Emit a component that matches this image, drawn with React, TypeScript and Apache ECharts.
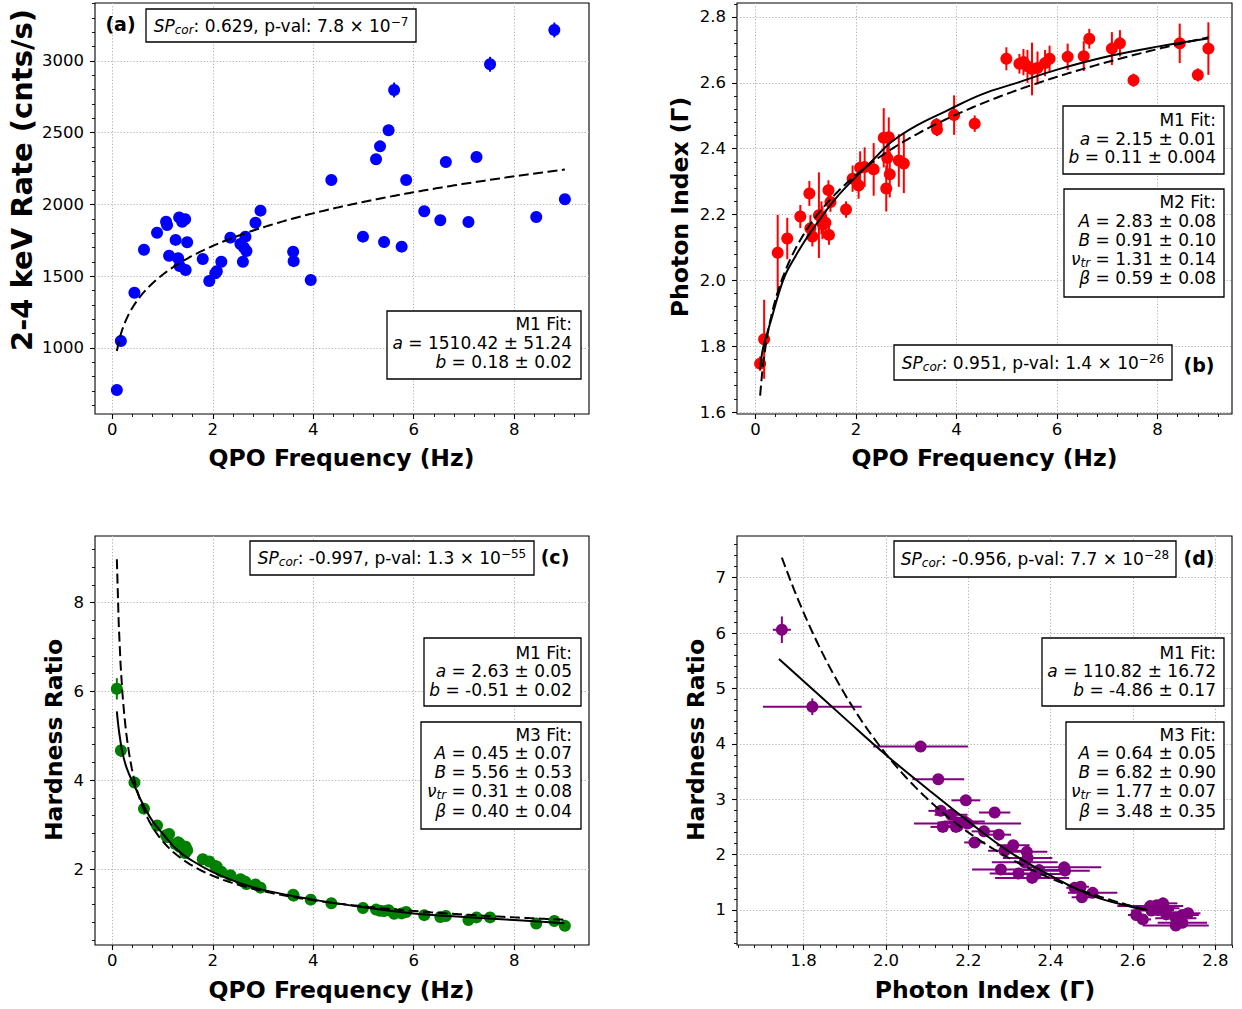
import React, { useEffect, useRef } from 'react';
import * as echarts from 'echarts';

// ---------------- data ----------------
const qpo = [0.09, 0.17, 0.44, 0.63, 0.89, 1.07, 1.09, 1.13, 1.26, 1.31, 1.33, 1.34, 1.39, 1.45, 1.46, 1.49, 1.80, 1.93, 2.05, 2.08, 2.17, 2.35, 2.55, 2.60, 2.62, 2.65, 2.67, 2.85, 2.95, 3.60, 3.61, 3.95, 4.36, 4.99, 5.25, 5.33, 5.41, 5.50, 5.61, 5.76, 5.85, 6.21, 6.53, 6.64, 7.09, 7.25, 7.52, 8.44, 8.80, 9.01];
const rate = [707, 1049, 1385, 1685, 1803, 1880, 1857, 1643, 1753, 1625, 1910, 1571, 1880, 1897, 1543, 1737, 1620, 1467, 1520, 1535, 1601, 1769, 1725, 1601, 1700, 1776, 1676, 1873, 1957, 1671, 1605, 1474, 2171, 1776, 2315, 2405, 1739, 2517, 2798, 1706, 2171, 1953, 1890, 2296, 1878, 2331, 2977, 1913, 3216, 2036];
const rateErr = [12, 14, 16, 18, 18, 20, 20, 18, 19, 18, 21, 17, 20, 21, 17, 19, 18, 17, 17, 17, 18, 20, 19, 18, 19, 20, 19, 21, 22, 19, 18, 17, 30, 19, 30, 34, 19, 38, 52, 19, 30, 21, 21, 34, 21, 36, 52, 22, 52, 23];
const gamma = [1.747, 1.821, 2.084, 2.127, 2.194, 2.264, 2.158, 2.133, 2.198, 2.19, 2.175, 2.17, 2.175, 2.274, 2.138, 2.238, 2.215, 2.309, 2.288, 2.342, 2.344, 2.337, 2.433, 2.279, 2.372, 2.435, 2.322, 2.364, 2.355, 2.473, 2.458, 2.502, 2.476, 2.673, 2.658, 2.663, 2.650, 2.642, 2.645, 2.660, 2.673, 2.679, 2.681, 2.734, 2.704, 2.720, 2.608, 2.720, 2.624, 2.704];
const gammaErr = [0.022, 0.12, 0.115, 0.063, 0.035, 0.038, 0.04, 0.03, 0.13, 0.05, 0.05, 0.04, 0.04, 0.03, 0.03, 0.03, 0.025, 0.04, 0.04, 0.05, 0.06, 0.08, 0.09, 0.07, 0.06, 0.06, 0.07, 0.08, 0.09, 0.02, 0.02, 0.06, 0.025, 0.035, 0.03, 0.04, 0.05, 0.08, 0.05, 0.04, 0.04, 0.04, 0.045, 0.03, 0.05, 0.04, 0.02, 0.06, 0.02, 0.08];
const hardness = [6.06, 4.67, 3.95, 3.36, 2.98, 2.76, 2.72, 2.79, 2.56, 2.60, 2.58, 2.50, 2.52, 2.36, 2.50, 2.42, 2.22, 2.17, 2.07, 2.05, 1.94, 1.86, 1.77, 1.73, 1.72, 1.71, 1.66, 1.65, 1.58, 1.42, 1.40, 1.31, 1.23, 1.12, 1.085, 1.06, 1.05, 1.07, 0.99, 1.00, 1.03, 0.96, 0.92, 0.94, 0.85, 0.91, 0.91, 0.77, 0.83, 0.72];
const hardnessErr = [0.24, 0.15, 0.06, 0.05, 0.04, 0.03, 0.03, 0.03, 0.03, 0.03, 0.03, 0.03, 0.03, 0.03, 0.03, 0.03, 0.03, 0.03, 0.03, 0.03, 0.03, 0.03, 0.02, 0.02, 0.02, 0.02, 0.02, 0.02, 0.02, 0.02, 0.02, 0.02, 0.02, 0.02, 0.02, 0.02, 0.02, 0.02, 0.02, 0.02, 0.02, 0.02, 0.02, 0.02, 0.02, 0.02, 0.02, 0.02, 0.02, 0.02];

// fit parameters (M1: y = a * x^b) as printed in the panels
const rateM1 = { a: 1510.42, b: 0.18 };
const gammaM1 = { a: 2.15, b: 0.11 };
const hrM1 = { a: 2.63, b: -0.51 };
const hrGammaM1 = { a: 110.82, b: -4.86 };
const hrGammaFitEnd = 2.635;

// M2 / M3 model curves
const gammaM2Qpo = [0.09, 0.12, 0.15, 0.2, 0.3, 0.45, 0.6, 0.8, 1.0, 1.3, 1.6, 2.0, 2.3, 2.7, 3.2, 3.8, 4.5, 5.2, 6.0, 7.0, 8.0, 9.0];
const gammaM2Val = [1.73, 1.77, 1.795, 1.825, 1.875, 1.955, 2.02, 2.075, 2.125, 2.19, 2.25, 2.315, 2.36, 2.42, 2.47, 2.515, 2.565, 2.60, 2.64, 2.68, 2.71, 2.735];
const hrM3Qpo = [0.09, 0.12, 0.155, 0.2, 0.29, 0.45, 0.6, 0.8, 1.0, 1.3, 1.6, 2.0, 2.5, 3.0, 4.0, 5.0, 6.0, 7.0, 8.0, 9.0];
const hrM3Val = [5.55, 5.22, 4.93, 4.63, 4.26, 3.85, 3.48, 3.08, 2.80, 2.42, 2.18, 1.93, 1.70, 1.53, 1.31, 1.14, 1.0, 0.92, 0.85, 0.78];
const hrGammaM3Gamma = [1.74, 1.8, 1.9, 2.0, 2.1, 2.2, 2.3, 2.4, 2.5, 2.6, 2.635];
const hrGammaM3Val = [5.53, 5.13, 4.46, 3.80, 3.19, 2.60, 2.05, 1.62, 1.26, 1.05, 1.0];

// tick labels
const qpoTicks = [0, 2, 4, 6, 8];
const rateTicks = [1000, 1500, 2000, 2500, 3000];
const gammaTicks = [1.6, 1.8, 2.0, 2.2, 2.4, 2.6, 2.8];
const hrTicksC = [2, 4, 6, 8];
const hrTicksD = [1, 2, 3, 4, 5, 6, 7];

// ---------------- layout / style ----------------
const FONT = 'DejaVu Sans';
const GRIDS = [
  { left: 95, top: 3, width: 494, height: 411 },
  { left: 737, top: 3, width: 495, height: 411 },
  { left: 95, top: 536, width: 494, height: 409 },
  { left: 737, top: 536, width: 495, height: 409 },
];

function makeAxes(dim: 'x' | 'y', gridIndex: number, min: number, max: number, majors: number[], minorStep: number, fmt: (v: number) => string) {
  const minors: number[] = [];
  for (let k = Math.ceil(min / minorStep - 1e-9); k * minorStep <= max + 1e-9; k++) minors.push(+(k * minorStep).toFixed(6));
  const base = {
    type: 'value', gridIndex, min, max,
    position: dim === 'x' ? 'bottom' : 'left',
    axisLine: { show: false, onZero: false },
  };
  return [
    {
      ...base,
      axisTick: { show: true, customValues: majors, length: 5, lineStyle: { color: '#000', width: 1.1 } },
      axisLabel: { show: true, customValues: majors, formatter: fmt, margin: dim === 'x' ? 7 : 11, fontFamily: FONT, fontSize: 16.5, color: '#000' },
      splitLine: { show: true, lineStyle: { color: '#b0b0b0', width: 1, type: [1.2, 2] } },
    },
    {
      ...base,
      axisTick: { show: true, customValues: minors, length: 3, lineStyle: { color: '#000', width: 0.9 } },
      axisLabel: { show: false },
      splitLine: { show: false },
    },
  ];
}

const f0 = (v: number) => String(Math.round(v));
const f1 = (v: number) => v.toFixed(1);

function powerCurve(p: { a: number; b: number }, x0: number, x1: number) {
  const n = 240;
  const out: number[][] = [];
  for (let k = 0; k <= n; k++) {
    const x = x0 + ((x1 - x0) * k) / n;
    out.push([x, p.a * Math.pow(x, p.b)]);
  }
  return out;
}

function errorSeries(g: number, data: number[][], color: string) {
  return {
    type: 'custom', xAxisIndex: 2 * g, yAxisIndex: 2 * g, data, z: 2, silent: true,
    encode: { x: 0, y: 1 },
    renderItem: (_p: any, api: any) => {
      const x = api.value(0), y = api.value(1), xe = api.value(2), ye = api.value(3);
      const kids: any[] = [];
      if (ye > 0) {
        const a = api.coord([x, y - ye]), b = api.coord([x, y + ye]);
        kids.push({ type: 'line', shape: { x1: a[0], y1: a[1], x2: b[0], y2: b[1] }, style: { stroke: color, lineWidth: 2 } });
      }
      if (xe > 0) {
        const a = api.coord([x - xe, y]), b = api.coord([x + xe, y]);
        kids.push({ type: 'line', shape: { x1: a[0], y1: a[1], x2: b[0], y2: b[1] }, style: { stroke: color, lineWidth: 2 } });
      }
      return { type: 'group', children: kids };
    },
  };
}

function scatterSeries(g: number, data: number[][], color: string) {
  return { type: 'scatter', xAxisIndex: 2 * g, yAxisIndex: 2 * g, data, symbolSize: 12, itemStyle: { color, opacity: 1 }, z: 3, silent: true };
}

function lineSeries(g: number, data: number[][], dashed: boolean, smooth: boolean) {
  return {
    type: 'line', xAxisIndex: 2 * g, yAxisIndex: 2 * g, data, showSymbol: false, symbol: 'none', smooth: smooth ? 0.4 : false,
    lineStyle: { color: '#000', width: 2, type: dashed ? [10, 4.5] : 'solid' }, z: 4, silent: true,
  };
}

const RICH = {
  i: { fontStyle: 'italic', fontSize: 17, fontFamily: FONT, lineHeight: 20, fill: '#000' },
  sub: { fontStyle: 'italic', fontSize: 12, fontFamily: FONT, lineHeight: 12, verticalAlign: 'bottom', fill: '#000' },
  sup: { fontSize: 12, fontFamily: FONT, lineHeight: 12, verticalAlign: 'top', fill: '#000' },
};

function txt(x: number, y: number, text: string, align: string) {
  return {
    type: 'text', x, y, z: 101,
    style: { text, fill: '#000', fontSize: 17, fontFamily: FONT, lineHeight: 20, align, verticalAlign: 'middle', rich: RICH },
  };
}
function box(x: number, y: number, w: number, h: number) {
  return { type: 'rect', z: 100, shape: { x, y, width: w, height: h }, style: { fill: '#fff', stroke: '#000', lineWidth: 1.3 } };
}
function boldLabel(x: number, y: number, text: string, size: number, rotate: boolean) {
  return {
    type: 'text', x, y, z: 101, rotation: rotate ? Math.PI / 2 : 0,
    style: { text, fill: '#000', fontSize: size, fontWeight: 'bold', fontFamily: FONT, align: 'center', verticalAlign: 'middle' },
  };
}
function fitBox(x: number, y: number, w: number, h: number, right: number, ys: number[], lines: string[]) {
  return [box(x, y, w, h), ...lines.map((l, i) => txt(right, ys[i], l, 'right'))];
}

export default function App() {
  const ref = useRef<HTMLDivElement>(null);
  useEffect(() => {
    if (!ref.current) return;
    const chart = echarts.init(ref.current, null, { renderer: 'svg' });

    const qMin = Math.min(...qpo), qMax = Math.max(...qpo);
    const gMin = Math.min(...gamma);

    const xAxis = [
      ...makeAxes('x', 0, -0.345, 9.49, qpoTicks, 0.4, f0),
      ...makeAxes('x', 1, -0.37, 9.48, qpoTicks, 0.4, f0),
      ...makeAxes('x', 2, -0.345, 9.49, qpoTicks, 0.4, f0),
      ...makeAxes('x', 3, 1.638, 2.8406, gammaTicks.filter((v) => v >= 1.8), 0.04, f1),
    ];
    const yAxis = [
      ...makeAxes('y', 0, 540, 3404, rateTicks, 100, f0),
      ...makeAxes('y', 1, 1.594, 2.8425, gammaTicks, 0.04, f1),
      ...makeAxes('y', 2, 0.288, 9.502, hrTicksC, 0.4, f0),
      ...makeAxes('y', 3, 0.368, 7.753, hrTicksD, 0.2, f0),
    ];

    const series: any[] = [
      // (a)
      errorSeries(0, qpo.map((x, i) => [x, rate[i], 0, rateErr[i]]), '#0000ff'),
      scatterSeries(0, qpo.map((x, i) => [x, rate[i]]), '#0000ff'),
      lineSeries(0, powerCurve(rateM1, qMin, qMax), true, false),
      // (b)
      errorSeries(1, qpo.map((x, i) => [x, gamma[i], 0, gammaErr[i]]), '#ff0000'),
      scatterSeries(1, qpo.map((x, i) => [x, gamma[i]]), '#ff0000'),
      lineSeries(1, gammaM2Qpo.map((x, i) => [x, gammaM2Val[i]]), false, true),
      lineSeries(1, powerCurve(gammaM1, qMin, qMax), true, false),
      // (c)
      errorSeries(2, qpo.map((x, i) => [x, hardness[i], 0, hardnessErr[i]]), '#008000'),
      scatterSeries(2, qpo.map((x, i) => [x, hardness[i]]), '#008000'),
      lineSeries(2, hrM3Qpo.map((x, i) => [x, hrM3Val[i]]), false, true),
      lineSeries(2, powerCurve(hrM1, qMin, qMax), true, false),
      // (d)
      errorSeries(3, gamma.map((x, i) => [x, hardness[i], gammaErr[i], hardnessErr[i]]), '#800080'),
      scatterSeries(3, gamma.map((x, i) => [x, hardness[i]]), '#800080'),
      lineSeries(3, hrGammaM3Gamma.map((x, i) => [x, hrGammaM3Val[i]]), false, true),
      lineSeries(3, powerCurve(hrGammaM1, gMin, hrGammaFitEnd), true, false),
    ];

    const elements: any[] = [
      // panel (a)
      boldLabel(120.5, 24, '(a)', 19, false),
      box(146, 9, 270, 33),
      txt(281, 25.5, '{i|SP}{sub|cor}: 0.629, p-val: 7.8 × 10{sup|−7}', 'center'),
      ...fitBox(387, 311, 194, 68, 572, [324, 343, 362], ['M1 Fit:', '{i|a} = 1510.42 ± 51.24', '{i|b} = 0.18 ± 0.02']),
      // panel (b)
      ...fitBox(1063, 106, 161, 68, 1216, [120, 138.5, 157], ['M1 Fit:', '{i|a} = 2.15 ± 0.01', '{i|b} = 0.11 ± 0.004']),
      ...fitBox(1064, 189, 160, 108, 1216, [202, 220.5, 239.5, 258.5, 278], ['M2 Fit:', '{i|A} = 2.83 ± 0.08', '{i|B} = 0.91 ± 0.10', '{i|ν}{sub|tr} = 1.31 ± 0.14', '{i|β} = 0.59 ± 0.08']),
      box(894, 345, 278, 35),
      txt(1033, 362.5, '{i|SP}{sub|cor}: 0.951, p-val: 1.4 × 10{sup|−26}', 'center'),
      boldLabel(1199, 365, '(b)', 19, false),
      // panel (c)
      box(250, 541, 284, 34),
      txt(392, 558, '{i|SP}{sub|cor}: -0.997, p-val: 1.3 × 10{sup|−55}', 'center'),
      boldLabel(555, 557, '(c)', 19, false),
      ...fitBox(424, 638, 157, 68, 572, [652.5, 671, 690], ['M1 Fit:', '{i|a} = 2.63 ± 0.05', '{i|b} = -0.51 ± 0.02']),
      ...fitBox(421, 722, 160, 107, 572, [734.5, 753, 772, 791, 810.5], ['M3 Fit:', '{i|A} = 0.45 ± 0.07', '{i|B} = 5.56 ± 0.53', '{i|ν}{sub|tr} = 0.31 ± 0.08', '{i|β} = 0.40 ± 0.04']),
      // panel (d)
      box(894, 541, 282, 36),
      txt(1035, 559, '{i|SP}{sub|cor}: -0.956, p-val: 7.7 × 10{sup|−28}', 'center'),
      boldLabel(1199, 558, '(d)', 19, false),
      ...fitBox(1042, 638, 182, 68, 1216, [652.5, 671, 690], ['M1 Fit:', '{i|a} = 110.82 ± 16.72', '{i|b} = -4.86 ± 0.17']),
      ...fitBox(1066, 722, 158, 107, 1216, [734.5, 753, 772, 791, 810.5], ['M3 Fit:', '{i|A} = 0.64 ± 0.05', '{i|B} = 6.82 ± 0.90', '{i|ν}{sub|tr} = 1.77 ± 0.07', '{i|β} = 3.48 ± 0.35']),
      // axis titles
      boldLabel(341.5, 458, 'QPO Frequency (Hz)', 23.5, false),
      boldLabel(984.5, 458, 'QPO Frequency (Hz)', 23.5, false),
      boldLabel(341.5, 990, 'QPO Frequency (Hz)', 23.5, false),
      boldLabel(985, 990, 'Photon Index (Γ)', 23.5, false),
      boldLabel(22, 180, '2-4 keV Rate (cnts/s)', 29, true),
      boldLabel(680, 207, 'Photon Index (Γ)', 23.5, true),
      boldLabel(54, 740, 'Hardness Ratio', 23.5, true),
      boldLabel(696, 740, 'Hardness Ratio', 23.5, true),
    ];

    chart.setOption({
      animation: false,
      backgroundColor: '#fff',
      grid: GRIDS.map((g) => ({ ...g, show: true, borderColor: '#000', borderWidth: 1.1, backgroundColor: 'transparent', containLabel: false })),
      xAxis,
      yAxis,
      series,
      graphic: { elements },
    });
    return () => chart.dispose();
  }, []);
  return <div ref={ref} style={{ position: 'absolute', left: 0, top: 0, width: 1242, height: 1009, background: '#fff' }} />;
}
